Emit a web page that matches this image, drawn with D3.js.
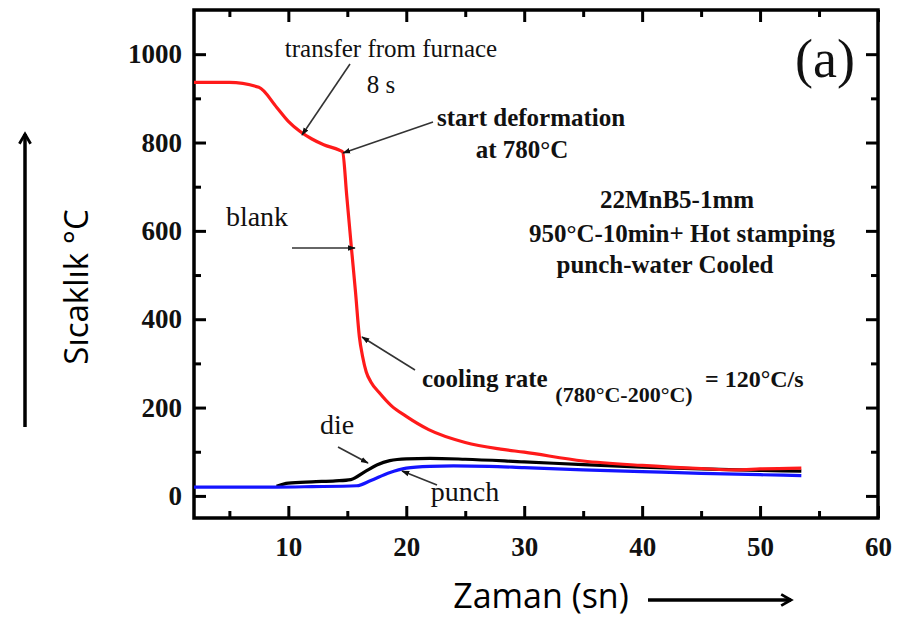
<!DOCTYPE html>
<html>
<head>
<meta charset="utf-8">
<script src="https://cdn.jsdelivr.net/npm/d3@7"></script>
<style>
  body { margin: 0; background: #fff; }
  svg { display: block; }
  .tick text { font-family: "Liberation Serif", "Times New Roman", serif; font-weight: bold; font-size: 27px; fill: #111; }
  .axisTitle { font-family: "Open Sans", sans-serif; fill: #000; }
</style>
</head>
<body>
<div id="chart"></div>
<script>
// data (time in s, temperature in °C)
var blankTime = [2, 5, 7.5, 9, 10, 11, 12, 13, 14.3, 14.6, 14.95, 15.34, 15.7, 16.02, 16.3, 16.6, 17, 17.7, 18.7, 20, 21.9, 25, 28, 30, 35, 40, 45, 48, 50, 53.5];
var blankTemp = [936, 936, 925, 880, 848, 825, 808, 795, 783, 779, 680, 564, 460, 361, 315, 281, 258, 234, 205, 180, 150, 121, 106, 99, 79, 69, 62, 59, 61, 63];

var dieTime = [9, 10, 12, 14, 15.3, 16.5, 17.5, 18.6, 20, 22, 25, 30, 35, 40, 45, 50, 53.5];
var dieTemp = [22, 29, 32, 34, 37, 55, 70, 80, 84, 85, 83, 77, 71, 65, 61, 58, 56];

var punchTime = [2, 9, 12, 15.8, 17, 18.5, 20, 22, 24, 27, 30, 35, 40, 45, 50, 53.5];
var punchTemp = [20, 20, 21, 23, 35, 52, 63, 67, 68, 67, 64, 59, 55, 51, 48, 46];

var xMajor = [10, 20, 30, 40, 50, 60];
var xMinor = [5, 15, 25, 35, 45, 55];
var yMajor = [0, 200, 400, 600, 800, 1000];
var yMinor = [100, 300, 500, 700, 900];

var svgWidth = 898;
var svgHeight = 617;

var margin = { top: 10, left: 194, right: 20, bottom: 99 };
var width = svgWidth - margin.left - margin.right;
var height = svgHeight - margin.top - margin.bottom;

var serif = '"Liberation Serif", "Times New Roman", serif';

var svg = d3.select("#chart")
  .append("svg")
  .attr("width", svgWidth)
  .attr("height", svgHeight);

var defs = svg.append("defs");
defs.append("marker")
  .attr("id", "head")
  .attr("viewBox", "0 0 10 10")
  .attr("refX", 9).attr("refY", 5)
  .attr("markerWidth", 5).attr("markerHeight", 5)
  .attr("orient", "auto")
  .append("path").attr("d", "M0,1.5 L10,5 L0,8.5 Z").attr("fill", "#111");
defs.append("marker")
  .attr("id", "open")
  .attr("viewBox", "0 0 10 10")
  .attr("refX", 8).attr("refY", 5)
  .attr("markerWidth", 4).attr("markerHeight", 4)
  .attr("orient", "auto")
  .append("path").attr("d", "M1,1 L8,5 L1,9").attr("fill", "none").attr("stroke", "#000").attr("stroke-width", 2);

var chartGroup = svg.append("g")
  .attr("transform", `translate(${margin.left}, ${margin.top})`);

var x = d3.scaleLinear().domain([2, 60]).range([0, width]);
var y = d3.scaleLinear().domain([-50, 1100]).range([height, 0]);

// axes, ticks pointing in on all four sides
function styleAxis(g) {
  g.select(".domain").remove();
  g.selectAll(".tick line").attr("stroke", "#000").attr("stroke-width", 3);
}

chartGroup.append("g").attr("transform", `translate(0, ${height})`)
  .call(d3.axisBottom(x).tickValues(xMajor).tickSize(-12).tickPadding(19).tickFormat(d3.format("d")))
  .call(styleAxis);
chartGroup.append("g").attr("transform", `translate(0, ${height})`)
  .call(d3.axisBottom(x).tickValues(xMinor).tickSize(-7).tickFormat(""))
  .call(styleAxis);
chartGroup.append("g")
  .call(d3.axisTop(x).tickValues(xMajor).tickSize(-12).tickFormat(""))
  .call(styleAxis);
chartGroup.append("g")
  .call(d3.axisTop(x).tickValues(xMinor).tickSize(-7).tickFormat(""))
  .call(styleAxis);

chartGroup.append("g")
  .call(d3.axisLeft(y).tickValues(yMajor).tickSize(-12).tickPadding(12).tickFormat(d3.format("d")))
  .call(styleAxis);
chartGroup.append("g")
  .call(d3.axisLeft(y).tickValues(yMinor).tickSize(-7).tickFormat(""))
  .call(styleAxis);
chartGroup.append("g").attr("transform", `translate(${width}, 0)`)
  .call(d3.axisRight(y).tickValues(yMajor).tickSize(-12).tickFormat(""))
  .call(styleAxis);
chartGroup.append("g").attr("transform", `translate(${width}, 0)`)
  .call(d3.axisRight(y).tickValues(yMinor).tickSize(-7).tickFormat(""))
  .call(styleAxis);

chartGroup.append("rect")
  .attr("width", width).attr("height", height)
  .attr("fill", "none").attr("stroke", "#000").attr("stroke-width", 3.5);

// curves
var line = d3.line()
  .x(d => x(d[0]))
  .y(d => y(d[1]))
  .curve(d3.curveMonotoneX);

function addCurve(xs, ys, color) {
  chartGroup.append("path")
    .datum(xs.map((t, i) => [t, ys[i]]))
    .attr("d", line)
    .attr("fill", "none")
    .attr("stroke", color)
    .attr("stroke-width", 3.2);
}
addCurve(dieTime, dieTemp, "#000");
addCurve(punchTime, punchTemp, "#1414ff");
addCurve(blankTime, blankTemp, "#ff1a1a");

// annotations
function text(px, py, str, size, bold, anchor) {
  return svg.append("text")
    .attr("x", px).attr("y", py)
    .attr("font-family", serif)
    .attr("font-size", size)
    .attr("font-weight", bold ? "bold" : "normal")
    .attr("text-anchor", anchor || "start")
    .attr("fill", "#111")
    .text(str);
}
function arrow(x1, y1, x2, y2) {
  svg.append("line")
    .attr("x1", x1).attr("y1", y1).attr("x2", x2).attr("y2", y2)
    .attr("stroke", "#333").attr("stroke-width", 1.6)
    .attr("marker-end", "url(#head)");
}

text(391, 57, "transfer from furnace", 25, false, "middle");
text(381, 93, "8 s", 25, false, "middle");
arrow(350, 64, 302, 135);

text(437, 126, "start deformation", 25, true);
text(522, 158, "at 780°C", 25, true, "middle");
arrow(433, 122, 343, 153);

text(825, 77, "(a)", 54, false, "middle");

text(677, 208, "22MnB5-1mm", 25, true, "middle");
text(682, 242, "950°C-10min+ Hot stamping", 25, true, "middle");
text(665, 273, "punch-water Cooled", 25, true, "middle");

text(257, 226, "blank", 28, false, "middle");
arrow(292, 248, 355, 248);

text(422, 387, "cooling rate", 25, true);
text(624, 402, "(780°C-200°C)", 22, true, "middle");
text(705, 387, "= 120°C/s", 24, true);
arrow(415, 370, 362, 337);

text(337, 434, "die", 28, false, "middle");
arrow(338, 447, 368, 463);

text(465, 501, "punch", 28, false, "middle");
arrow(437, 485, 402, 471);

// axis titles with arrows
svg.append("text")
  .attr("class", "axisTitle")
  .attr("transform", "translate(88, 287) rotate(-90)")
  .attr("text-anchor", "middle")
  .attr("font-size", 33)
  .text("Sıcaklık °C");
svg.append("line")
  .attr("x1", 25).attr("y1", 427).attr("x2", 25).attr("y2", 134)
  .attr("stroke", "#000").attr("stroke-width", 3.5)
  .attr("marker-end", "url(#open)");

svg.append("text")
  .attr("class", "axisTitle")
  .attr("x", 541).attr("y", 608)
  .attr("text-anchor", "middle")
  .attr("font-size", 34)
  .text("Zaman (sn)");
svg.append("line")
  .attr("x1", 648).attr("y1", 600).attr("x2", 791).attr("y2", 600)
  .attr("stroke", "#000").attr("stroke-width", 3.5)
  .attr("marker-end", "url(#open)");
</script>
</body>
</html>
